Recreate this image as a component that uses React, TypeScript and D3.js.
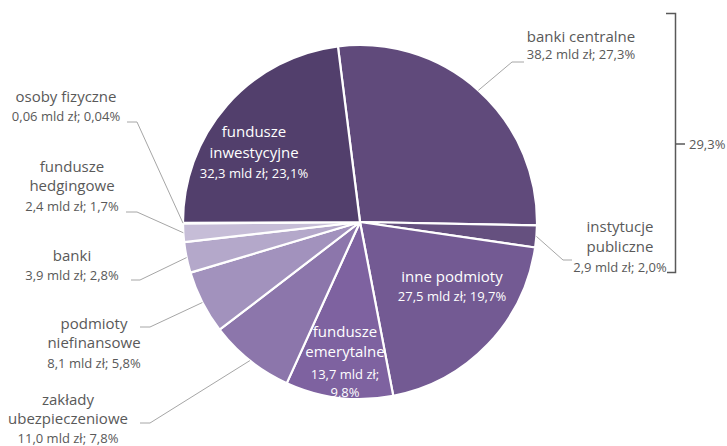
import React from "react";
import * as d3 from "d3";

const categories = [
  "banki centralne",
  "instytucje publiczne",
  "inne podmioty",
  "fundusze emerytalne",
  "zakłady ubezpieczeniowe",
  "podmioty niefinansowe",
  "banki",
  "fundusze hedgingowe",
  "osoby fizyczne",
  "fundusze inwestycyjne",
];
const amounts = [38.2, 2.9, 27.5, 13.7, 11.0, 8.1, 3.9, 2.4, 0.06, 32.3];
const shares = [27.3, 2.0, 19.7, 9.8, 7.8, 5.8, 2.8, 1.7, 0.04, 23.1];
const colors = [
  "#604a7b",
  "#65507f",
  "#735a93",
  "#7e62a0",
  "#8c76ab",
  "#a292bd",
  "#b4a8ca",
  "#c6bdd7",
  "#d6cfe2",
  "#523f6c",
];
const bracketLabel = "29,3%";

// layout: label lines, anchor centre, baselines, inside/outside, leader elbow/end
type Layout = {
  nameLines: string[];
  valueLines?: string[];
  x: number;
  ys: number[];
  inside?: boolean;
  elbow?: [number, number];
  end?: [number, number];
};

const fmt = (v: number) => d3.format(v < 0.1 ? ".2f" : ".1f")(v).replace(".", ",");
const valueText = (i: number) => `${fmt(amounts[i])} mld zł; ${fmt(shares[i])}%`;

const layouts: Layout[] = [
  { nameLines: ["banki centralne"], x: 581, ys: [42, 59], elbow: [512, 62], end: [524, 62] },
  { nameLines: ["instytucje", "publiczne"], x: 620, ys: [232, 252, 272], elbow: [563, 260], end: [572, 260] },
  { nameLines: ["inne podmioty"], x: 452, ys: [282, 301], inside: true },
  {
    nameLines: ["fundusze", "emerytalne"],
    valueLines: [`${fmt(amounts[3])} mld zł;`, `${fmt(shares[3])}%`],
    x: 345,
    ys: [337, 357, 379, 397],
    inside: true,
  },
  { nameLines: ["zakłady", "ubezpieczeniowe"], x: 68, ys: [405, 424, 443], elbow: [150, 423], end: [140, 423] },
  { nameLines: ["podmioty", "niefinansowe"], x: 94, ys: [329, 348, 368], elbow: [150, 327], end: [140, 327] },
  { nameLines: ["banki"], x: 72, ys: [261, 280], elbow: [140, 280], end: [131, 280] },
  { nameLines: ["fundusze", "hedgingowe"], x: 72, ys: [172, 191, 211], elbow: [137, 212], end: [126, 212] },
  { nameLines: ["osoby fizyczne"], x: 66, ys: [102, 121], elbow: [137, 122], end: [127, 122] },
  { nameLines: ["fundusze", "inwestycyjne"], x: 254, ys: [137, 158, 178], inside: true },
];

const W = 727;
const H = 446;
const cx = 360;
const cy = 222;
const R = 177;
const start = -0.125;

export default function App() {
  const pie = d3
    .pie<number>()
    .sort(null)
    .value((d) => d)
    .startAngle(start)
    .endAngle(start + 2 * Math.PI);
  const arcs = pie(shares);
  const arc = d3.arc<d3.PieArcDatum<number>>().innerRadius(0).outerRadius(R);
  const line = d3.line();

  return (
    <svg
      width={W}
      height={H}
      style={{ position: "absolute", left: 0, top: 0, background: "#fff" }}
      fontFamily="'Open Sans', sans-serif"
    >
      <g transform={`translate(${cx},${cy})`}>
        {arcs.map((a, i) => (
          <path key={i} d={arc(a) || ""} fill={colors[i]} stroke="#fff" strokeWidth={2.2} strokeLinejoin="round" />
        ))}
      </g>
      {arcs.map((a, i) => {
        const L = layouts[i];
        if (!L.elbow || !L.end) return null;
        const mid = (a.startAngle + a.endAngle) / 2;
        const edge: [number, number] = [cx + R * Math.sin(mid), cy - R * Math.cos(mid)];
        return (
          <path key={"l" + i} d={line([edge, L.elbow, L.end]) || ""} fill="none" stroke="#a6a6a6" strokeWidth={1} />
        );
      })}
      {layouts.map((L, i) => {
        const vals = L.valueLines ?? [valueText(i)];
        const fill = L.inside ? "#ffffff" : "#595959";
        return (
          <g key={"t" + i} textAnchor="middle" fill={fill}>
            {L.nameLines.map((t, k) => (
              <text key={"n" + k} x={L.x} y={L.ys[k]} fontSize={15}>
                {t}
              </text>
            ))}
            {vals.map((t, k) => (
              <text key={"v" + k} x={L.x} y={L.ys[L.nameLines.length + k]} fontSize={13}>
                {t}
              </text>
            ))}
          </g>
        );
      })}
      <path d="M666,13.5H675.5V272.5H667 M675.5,144H685" fill="none" stroke="#595959" strokeWidth={1.5} />
      <text x={689} y={149} fontSize={13} fill="#595959">
        {bracketLabel}
      </text>
    </svg>
  );
}
